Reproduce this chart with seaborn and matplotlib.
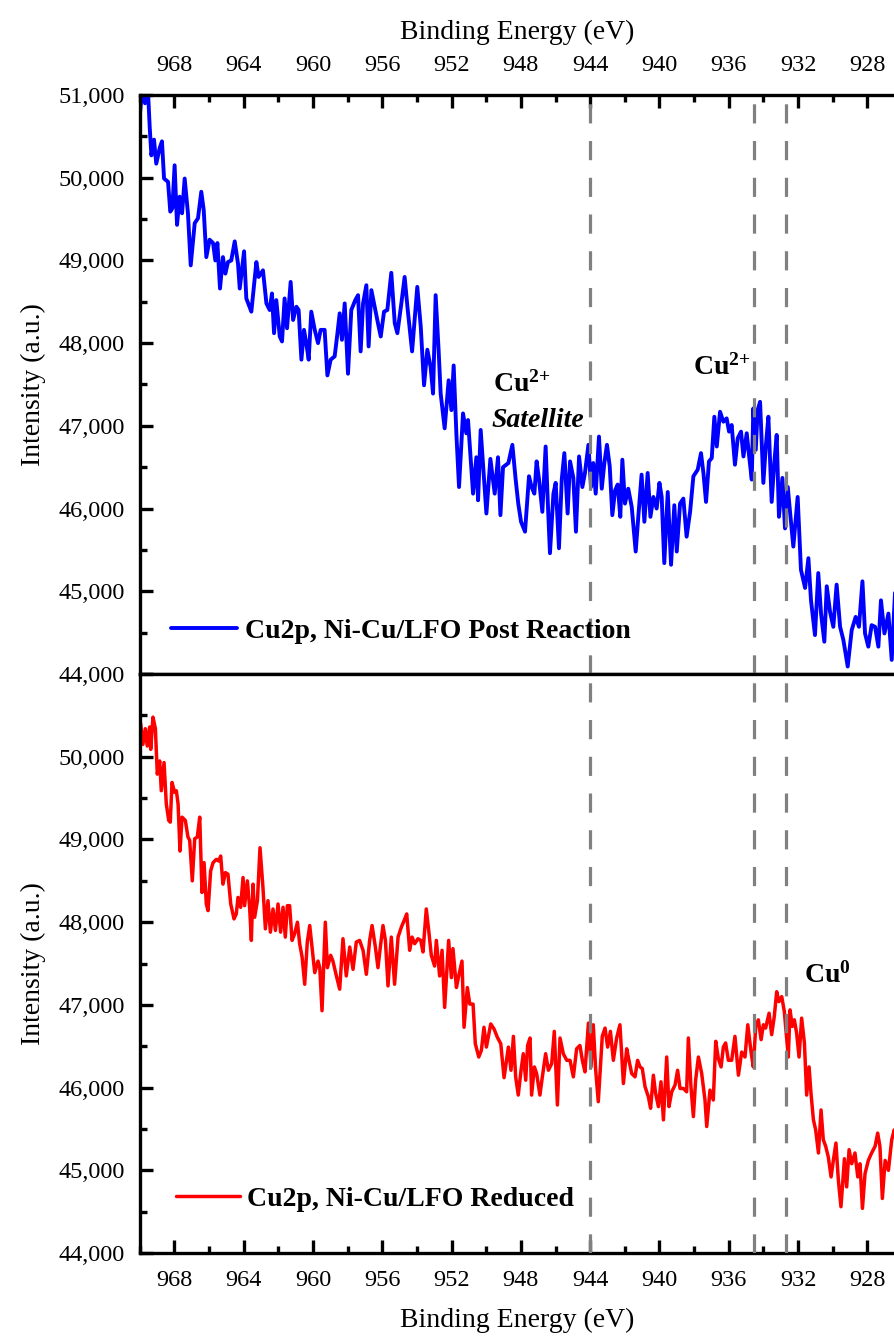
import matplotlib
matplotlib.use("Agg")
import matplotlib.pyplot as plt
from matplotlib.ticker import MultipleLocator, FuncFormatter
import pandas as pd
import seaborn as sns

# Cu 2p XPS spectrum, Ni-Cu/LFO after reaction (binding energy in eV, counts)
post_energy = [
    970.00, 969.85, 969.70, 969.55, 969.43, 969.33, 969.18, 969.05, 968.85, 968.72,
    968.60, 968.37, 968.24, 968.12, 967.99, 967.85, 967.70, 967.56, 967.41, 967.22,
    967.06, 966.83, 966.64, 966.45, 966.31, 966.16, 965.97, 965.77, 965.64, 965.52,
    965.37, 965.20, 965.06, 964.91, 964.72, 964.52, 964.33, 964.23, 963.98, 963.85,
    963.56, 963.27, 963.14, 962.89, 962.69, 962.50, 962.37, 962.25, 962.12, 961.92,
    961.79, 961.64, 961.50, 961.29, 961.15, 960.96, 960.83, 960.67, 960.52, 960.39,
    960.25, 960.10, 959.90, 959.71, 959.56, 959.33, 959.17, 958.98, 958.75, 958.60,
    958.46, 958.33, 958.17, 957.98, 957.79, 957.56, 957.40, 957.25, 957.11, 956.92,
    956.79, 956.63, 956.44, 956.25, 956.09, 955.90, 955.71, 955.48, 955.28, 955.13,
    954.90, 954.71, 954.55, 954.28, 953.98, 953.78, 953.59, 953.40, 953.21, 953.07,
    952.92, 952.75, 952.63, 952.40, 952.17, 952.01, 951.88, 951.72, 951.57, 951.34,
    951.15, 951.05, 950.76, 950.57, 950.47, 950.32, 949.99, 949.76, 949.51, 949.32,
    949.18, 949.03, 948.72, 948.49, 948.30, 948.15, 947.99, 947.76, 947.53, 947.38,
    947.22, 947.09, 946.95, 946.76, 946.57, 946.45, 946.32, 946.12, 945.99, 945.80,
    945.64, 945.49, 945.30, 945.16, 944.97, 944.82, 944.64, 944.45, 944.30, 944.10,
    943.95, 943.82, 943.68, 943.49, 943.33, 943.18, 943.03, 942.87, 942.72, 942.56,
    942.41, 942.26, 942.14, 941.99, 941.80, 941.60, 941.37, 941.22, 941.03, 940.87,
    940.68, 940.52, 940.35, 940.16, 940.00, 939.87, 939.72, 939.52, 939.33, 939.14,
    939.00, 938.81, 938.62, 938.43, 938.23, 938.04, 937.79, 937.60, 937.46, 937.31,
    937.14, 936.98, 936.83, 936.69, 936.50, 936.31, 936.12, 935.98, 935.83, 935.64,
    935.48, 935.29, 935.15, 934.96, 934.83, 934.67, 934.58, 934.44, 934.33, 934.19,
    934.00, 933.86, 933.71, 933.52, 933.37, 933.23, 933.10, 932.90, 932.75, 932.59,
    932.46, 932.27, 932.02, 931.83, 931.59, 931.40, 931.25, 931.02, 930.83, 930.67,
    930.48, 930.34, 930.15, 929.96, 929.77, 929.57, 929.38, 929.13, 928.90, 928.67,
    928.48, 928.28, 928.13, 927.94, 927.75, 927.55, 927.36, 927.21, 927.01, 926.78,
    926.59, 926.40, 926.20,
]
post_counts = [
    50750, 51100, 50900, 51150, 50620, 50270, 50460, 50170, 50360, 50440,
    49990, 49950, 49590, 49630, 50150, 49430, 49770, 49570, 49990, 49570,
    48940, 49450, 49510, 49830, 49610, 49040, 49250, 49210, 49000, 49210,
    48660, 49040, 48840, 48980, 49000, 49230, 48960, 48660, 49110, 48540,
    48380, 48980, 48800, 48880, 48480, 48400, 48600, 48120, 48520, 48080,
    48020, 48540, 48180, 48740, 48280, 48440, 48400, 47800, 48160, 48000,
    47800, 48380, 48160, 48000, 48160, 48160, 47610, 47800, 47840, 48100,
    48360, 48040, 48480, 47630, 48400, 48520, 48580, 47900, 48480, 48700,
    47960, 48640, 48440, 48240, 48080, 48380, 48400, 48850, 48240, 48120,
    48480, 48800, 48440, 47900, 48680, 48200, 47490, 47920, 47710, 47390,
    48580, 47920, 47390, 46970, 47550, 47190, 47730, 46890, 46260, 47150,
    46910, 47070, 46180, 46620, 46100, 46950, 45940, 46600, 46180, 46620,
    45920, 46500, 46550, 46770, 46350, 46060, 45840, 45720, 46390, 46260,
    46180, 46570, 46350, 45960, 46750, 46100, 45460, 46180, 46310, 45520,
    46350, 46670, 45940, 46570, 46370, 45720, 46630, 46260, 46430, 46770,
    46260, 46550, 46180, 46870, 46240, 46550, 46770, 46510, 45920, 46220,
    46290, 45900, 46590, 46060, 46240, 46020, 45480, 45900, 46410, 45840,
    46430, 45900, 46140, 46000, 46310, 46140, 45340, 46200, 45320, 46040,
    45480, 46060, 46120, 45660, 45960, 46390, 46470, 46670, 46430, 46080,
    46570, 46610, 47110, 46750, 47170, 47050, 47090, 46930, 47010, 46530,
    46850, 46930, 46630, 46910, 46650, 46350, 47210, 46710, 47190, 47290,
    46310, 46750, 47110, 46080, 46550, 46890, 45900, 46370, 45760, 46260,
    45960, 45540, 46140, 45260, 45040, 45400, 44890, 44470, 45220, 44730,
    44390, 45060, 44750, 44570, 45080, 44570, 44410, 44090, 44530, 44690,
    44570, 45120, 44490, 44330, 44590, 44570, 44330, 44890, 44490, 44730,
    44170, 44980, 44600,
]

# Cu 2p XPS spectrum, reduced Ni-Cu/LFO
reduced_energy = [
    969.95, 969.82, 969.68, 969.57, 969.43, 969.37, 969.24, 969.10, 968.99, 968.85,
    968.76, 968.60, 968.47, 968.33, 968.24, 968.14, 967.99, 967.89, 967.79, 967.68,
    967.56, 967.37, 967.22, 967.12, 966.97, 966.83, 966.68, 966.54, 966.41, 966.29,
    966.16, 966.06, 965.91, 965.77, 965.58, 965.45, 965.33, 965.20, 965.06, 964.91,
    964.75, 964.56, 964.43, 964.33, 964.18, 964.04, 963.95, 963.79, 963.66, 963.56,
    963.46, 963.37, 963.21, 963.06, 962.89, 962.75, 962.60, 962.46, 962.31, 962.17,
    962.02, 961.87, 961.73, 961.60, 961.48, 961.35, 961.21, 961.06, 960.90, 960.77,
    960.63, 960.48, 960.33, 960.19, 960.06, 959.90, 959.71, 959.61, 959.48, 959.29,
    959.17, 958.98, 958.85, 958.65, 958.46, 958.27, 958.08, 957.88, 957.69, 957.50,
    957.31, 957.11, 956.92, 956.73, 956.59, 956.40, 956.25, 956.09, 955.96, 955.82,
    955.67, 955.48, 955.29, 955.09, 954.90, 954.74, 954.59, 954.42, 954.28, 954.13,
    953.94, 953.78, 953.65, 953.46, 953.32, 953.17, 952.98, 952.88, 952.69, 952.55,
    952.40, 952.17, 952.01, 951.92, 951.72, 951.59, 951.40, 951.28, 951.09, 950.95,
    950.76, 950.63, 950.43, 950.28, 950.13, 949.99, 949.74, 949.55, 949.36, 949.16,
    948.97, 948.72, 948.57, 948.43, 948.30, 948.15, 947.99, 947.86, 947.72, 947.61,
    947.47, 947.38, 947.22, 947.09, 946.90, 946.76, 946.57, 946.41, 946.22, 946.07,
    945.89, 945.74, 945.55, 945.35, 945.16, 944.97, 944.78, 944.59, 944.45, 944.30,
    944.10, 943.95, 943.82, 943.68, 943.53, 943.30, 943.14, 942.99, 942.83, 942.66,
    942.47, 942.28, 942.08, 941.89, 941.76, 941.60, 941.41, 941.26, 941.12, 940.99,
    940.83, 940.64, 940.51, 940.35, 940.22, 940.06, 939.91, 939.77, 939.58, 939.45,
    939.29, 939.10, 938.95, 938.81, 938.62, 938.43, 938.33, 938.18, 938.04, 937.91,
    937.75, 937.56, 937.37, 937.27, 937.08, 936.89, 936.75, 936.60, 936.44, 936.31,
    936.18, 936.02, 935.83, 935.64, 935.44, 935.25, 935.06, 934.90, 934.71, 934.58,
    934.44, 934.29, 934.13, 934.00, 933.87, 933.67, 933.52, 933.37, 933.23, 933.10,
    932.94, 932.79, 932.65, 932.56, 932.46, 932.33, 932.21, 932.08, 931.94, 931.79,
    931.63, 931.50, 931.36, 931.25, 931.11, 930.98, 930.82, 930.67, 930.54, 930.40,
    930.25, 930.09, 929.96, 929.81, 929.67, 929.52, 929.32, 929.19, 929.05, 928.90,
    928.71, 928.55, 928.42, 928.28, 928.13, 927.94, 927.75, 927.55, 927.40, 927.27,
    927.13, 926.97, 926.78, 926.59, 926.44, 926.25,
]
reduced_counts = [
    50400, 50150, 50340, 50130, 50360, 50090, 50480, 50340, 49790, 49950,
    49590, 49930, 49430, 49230, 49210, 49690, 49570, 49590, 49430, 48860,
    49270, 49230, 49030, 48990, 48500, 49010, 49030, 49270, 48360, 48720,
    48220, 48140, 48620, 48720, 48760, 48740, 48800, 48460, 48600, 48580,
    48220, 48040, 48100, 48300, 48180, 48540, 48200, 48500, 48180, 47780,
    48460, 48060, 48260, 48900, 48420, 47920, 48260, 47880, 48160, 47900,
    48220, 47880, 48180, 47820, 48200, 48200, 47780, 47860, 48000, 47740,
    47580, 47250, 47760, 47960, 47700, 47390, 47530, 47450, 46930, 48000,
    47450, 47600, 47530, 47350, 47190, 47800, 47350, 47700, 47430, 47760,
    47780, 47660, 47370, 47780, 47960, 47700, 47450, 47740, 47960, 47780,
    47230, 47820, 47250, 47820, 47940, 48020, 48100, 47660, 47820, 47740,
    47800, 47780, 47640, 48160, 47900, 47600, 47470, 47780, 47350, 47660,
    46970, 47780, 47330, 47680, 47210, 47350, 47530, 46730, 47210, 47010,
    47010, 46530, 46370, 46450, 46730, 46490, 46770, 46710, 46610, 46530,
    46120, 46490, 46210, 46620, 46130, 45910, 46210, 46410, 46090, 46510,
    46600, 45910, 46250, 46170, 45910, 46130, 46410, 46210, 46290, 46680,
    45790, 46600, 46410, 46330, 46330, 46130, 46470, 46510, 46330, 46190,
    46780, 46250, 46760, 46210, 45830, 46620, 46720, 46490, 46680, 46330,
    46600, 46760, 46050, 46470, 46330, 46170, 46130, 46330, 46250, 46230,
    46010, 45890, 45750, 46150, 45930, 45770, 46070, 45610, 46370, 45770,
    45950, 46030, 46210, 45990, 45990, 45950, 46600, 46010, 45650, 46090,
    46370, 46170, 45850, 45530, 45970, 45850, 46560, 46350, 46250, 46490,
    46540, 46330, 46330, 46620, 46150, 46430, 46370, 46760, 46430, 46250,
    46740, 46820, 46580, 46760, 46720, 46900, 46640, 46860, 47160, 47040,
    47100, 46920, 46580, 46370, 46940, 46740, 46820, 46660, 46370, 46840,
    46540, 45910, 46250, 45930, 45610, 45490, 45210, 45730, 45370, 45290,
    45160, 44920, 45120, 45330, 44880, 44560, 45140, 44800, 45250, 45080,
    45210, 44920, 45080, 44540, 44960, 45120, 45210, 45290, 45450, 45290,
    44660, 45120, 45000, 45370, 45490, 45300,
]

# Reference binding energies marked with dashed guides (eV)
peak_markers = [944.0, 934.55, 932.7]

post_label = "Cu2p, Ni-Cu/LFO Post Reaction"
reduced_label = "Cu2p, Ni-Cu/LFO Reduced"

post_df = pd.DataFrame({"energy": post_energy, "counts": post_counts})
reduced_df = pd.DataFrame({"energy": reduced_energy, "counts": reduced_counts})

sns.set_style("ticks")
plt.rcParams["font.family"] = ["Liberation Serif", "DejaVu Serif"]
plt.rcParams["mathtext.fontset"] = "custom"
plt.rcParams["mathtext.rm"] = "Liberation Serif"
plt.rcParams["mathtext.bf"] = "Liberation Serif:bold"
plt.rcParams["mathtext.it"] = "Liberation Serif:italic"
for key in ("text.color", "axes.labelcolor", "xtick.color", "ytick.color",
            "axes.edgecolor"):
    plt.rcParams[key] = "black"

fig = plt.figure(figsize=(8.95, 13.38), dpi=100)
ax_top = fig.add_axes([0.1562, 0.4963, 0.8438, 0.4327])
ax_bot = fig.add_axes([0.1562, 0.0635, 0.8438, 0.4327])

sns.lineplot(data=post_df, x="energy", y="counts", ax=ax_top, color="#0000FF",
             lw=2.8, estimator=None, sort=False, label=post_label)
sns.lineplot(data=reduced_df, x="energy", y="counts", ax=ax_bot, color="#FF0000",
             lw=2.5, estimator=None, sort=False, label=reduced_label)

TICK_FS = 17.5
LABEL_FS = 20
SPINE_W = 2.4

def thousands(v, pos):
    return f"{v:,.0f}"

def thousands_no_top(v, pos):
    return "" if v >= 50999 else f"{v:,.0f}"

for ax in (ax_top, ax_bot):
    ax.set_xlim(970, 926.4)
    ax.set_ylim(44000, 51000)
    ax.xaxis.set_major_locator(MultipleLocator(4))
    ax.xaxis.set_minor_locator(MultipleLocator(2))
    ax.yaxis.set_major_locator(MultipleLocator(1000))
    ax.yaxis.set_minor_locator(MultipleLocator(500))
    ax.tick_params(which="major", direction="in", length=9.5, width=SPINE_W,
                   labelsize=TICK_FS, color="black", labelcolor="black")
    ax.tick_params(which="minor", direction="in", length=5, width=SPINE_W,
                   color="black")
    ax.tick_params(axis="y", which="both", left=True, right=False, pad=11)
    for side in ("left", "top", "bottom"):
        ax.spines[side].set_linewidth(SPINE_W)
        ax.spines[side].set_color("black")
    ax.spines["right"].set_visible(False)
    ax.set_ylabel("Intensity (a.u.)", fontsize=LABEL_FS, labelpad=9, color="black")
    for e in peak_markers:
        ax.axvline(e, color="#808080", lw=2.3, ls=(0, (6, 5.5)), zorder=3)

ax_top.yaxis.set_major_formatter(FuncFormatter(thousands))
ax_bot.yaxis.set_major_formatter(FuncFormatter(thousands_no_top))

ax_top.tick_params(axis="x", which="both", top=True, bottom=False,
                   labeltop=True, labelbottom=False, pad=14)
ax_top.xaxis.set_label_position("top")
ax_top.set_xlabel("Binding Energy (eV)", fontsize=LABEL_FS, labelpad=11,
                  color="black")

ax_bot.tick_params(axis="x", which="both", top=False, bottom=True,
                   labeltop=False, labelbottom=True, pad=12)
ax_bot.set_xlabel("Binding Energy (eV)", fontsize=LABEL_FS, labelpad=12,
                  color="black")

legend_font = {"weight": "bold", "size": 20}
for ax, anchor, hl, htp in ((ax_top, (0.0413, 0.0743), 2.37, 0.3),
                            (ax_bot, (0.048, 0.093), 2.3, 0.25)):
    leg = ax.legend(loc="center left", bbox_to_anchor=anchor, frameon=False,
                    prop=legend_font, handlelength=hl, handletextpad=htp,
                    borderpad=0, borderaxespad=0)
    for t in leg.get_texts():
        t.set_color("black")

# Peak assignments
ax_top.text(949.62, 47413, r"$\mathbf{Cu}^{\mathbf{2{+}}}$", fontsize=LABEL_FS,
            ha="left", va="baseline", color="black")
ax_top.text(949.68, 46990, "Satellite", fontsize=LABEL_FS, fontweight="bold",
            fontstyle="italic", ha="left", va="baseline", color="black")
ax_top.text(938.06, 47615, r"$\mathbf{Cu}^{\mathbf{2{+}}}$", fontsize=LABEL_FS,
            ha="left", va="baseline", color="black")
ax_bot.text(931.65, 47268, r"$\mathbf{Cu}^{\mathbf{0}}$", fontsize=LABEL_FS,
            ha="left", va="baseline", color="black")

fig.savefig("out.png", dpi=100)
